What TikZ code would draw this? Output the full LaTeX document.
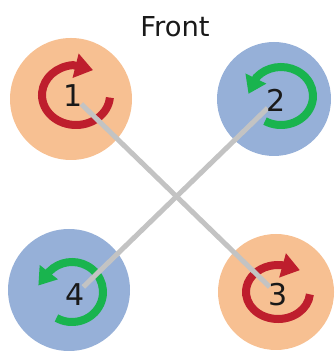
\documentclass[tikz,border=0pt]{standalone}
\usepackage{fontspec}
\setmainfont{DejaVu Sans}
\usetikzlibrary{arrows.meta}
\pgfdeclarelayer{circ}
\pgfdeclarelayer{arcs}
\pgfdeclarelayer{lines}
\pgfsetlayers{circ,arcs,lines,main}
\definecolor{peach}{RGB}{247,192,146}
\definecolor{bluefill}{RGB}{150,176,216}
\definecolor{arcred}{RGB}{190,30,45}
\definecolor{arcgreen}{RGB}{25,180,78}
\definecolor{linkgray}{RGB}{195,195,195}
\definecolor{ink}{RGB}{25,25,25}
\begin{document}
\begin{tikzpicture}[x=1pt,y=1pt,
  disc/.style={circle, inner sep=0pt, minimum size=#1},
  num/.style={inner sep=0pt, text=ink, font=\fontsize{30}{32}\selectfont},
  rot/.style={line width=8pt, -{Triangle[length=18pt,width=24pt]}},
  rotg/.style={line width=8pt, -{Triangle[length=17pt,width=22pt]}},
  link/.style={draw=linkgray, line width=5pt, shorten <=-2pt, shorten >=-2pt}]
\useasboundingbox (0,0) rectangle (334,352);
\begin{pgfonlayer}{circ}
\node[disc=122pt, fill=peach] (c1) at (71,253) {};
\node[disc=114pt, fill=bluefill] (c2) at (274,253) {};
\node[disc=116pt, fill=peach] (c3) at (276,60) {};
\node[disc=122pt, fill=bluefill] (c4) at (69,62) {};
\end{pgfonlayer}
\node[num] (n1) at (73,256) {1};
\node[num] (n2) at (276,252) {2};
\node[num] (n3) at (278,57) {3};
\node[num] (n4) at (75,57) {4};
\node[anchor=base, inner sep=0pt, text=ink, font=\fontsize{27.4}{30}\selectfont] (title) at (175,315) {Front};
\begin{pgfonlayer}{arcs}
\draw[rot, draw=arcred] (76,257) ++(-5:34 and 30) arc[start angle=-5, end angle=-265, x radius=34, y radius=30] -- ++(20,-5);
\draw[rotg, draw=arcgreen] (281,256) ++(-120:32 and 29) arc[start angle=-120, end angle=140, x radius=32, y radius=29] -- ++(-8,-16.5);
\draw[rot, draw=arcred] (278,60) ++(-5:32 and 27) arc[start angle=-5, end angle=-277, x radius=32, y radius=27] -- ++(18,-5);
\draw[rotg, draw=arcgreen] (72,60) ++(-120:31 and 30) arc[start angle=-120, end angle=137, x radius=31, y radius=30] -- ++(-11,-14);
\end{pgfonlayer}
\begin{pgfonlayer}{lines}
\draw[link] (n1) -- (n3);
\draw[link] (n2) -- (n4);
\end{pgfonlayer}
\end{tikzpicture}
\end{document}
